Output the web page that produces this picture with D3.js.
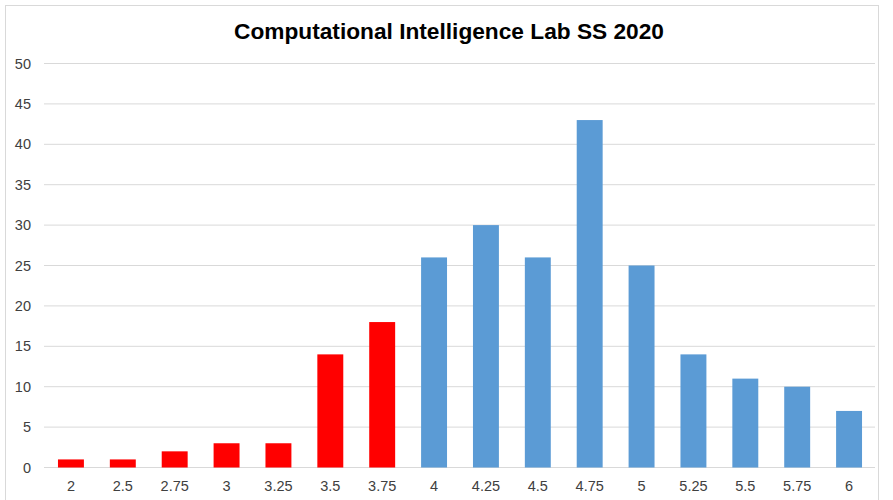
<!DOCTYPE html>
<html>
<head>
<meta charset="utf-8">
<script src="https://cdn.jsdelivr.net/npm/d3@7"></script>
<style>
  html, body { margin: 0; padding: 0; background: #fff; }
  svg { display: block; font-family: "Liberation Sans", Arial, sans-serif; }
</style>
</head>
<body>
<svg id="chart" width="893" height="500"></svg>
<script>
const grades = ['2', '2.5', '2.75', '3', '3.25', '3.5', '3.75', '4', '4.25', '4.5', '4.75', '5', '5.25', '5.5', '5.75', '6'];
const counts = [1, 1, 2, 3, 3, 14, 18, 26, 30, 26, 43, 25, 14, 11, 10, 7];
const yTicks = [0, 5, 10, 15, 20, 25, 30, 35, 40, 45, 50];
const failing = ['2', '2.5', '2.75', '3', '3.25', '3.5', '3.75'];

const svg = d3.select('#chart');

// chart frame
svg.append('rect')
  .attr('x', 5.5).attr('y', 5.5)
  .attr('width', 873).attr('height', 500)
  .attr('fill', '#fff')
  .attr('stroke', '#d9d9d9');

const x = d3.scaleBand().domain(grades).range([45, 875]).paddingInner(0.5).paddingOuter(0.25);
const y = d3.scaleLinear().domain([0, 50]).range([467.5, 63.5]);

// gridlines
svg.append('g')
  .selectAll('line')
  .data(yTicks)
  .join('line')
  .attr('x1', 44).attr('x2', 875)
  .attr('y1', d => y(d)).attr('y2', d => y(d))
  .attr('stroke', '#d9d9d9');

// y labels
svg.append('g')
  .selectAll('text')
  .data(yTicks)
  .join('text')
  .attr('x', 31)
  .attr('y', d => y(d) + 5)
  .attr('text-anchor', 'end')
  .attr('font-size', 14.5)
  .attr('fill', '#404040')
  .text(d => d);

// bars
svg.append('g')
  .selectAll('rect')
  .data(grades)
  .join('rect')
  .attr('x', d => x(d))
  .attr('width', x.bandwidth())
  .attr('y', (d, i) => y(counts[i]))
  .attr('height', (d, i) => y(0) - y(counts[i]))
  .attr('fill', d => failing.includes(d) ? '#ff0000' : '#5b9bd5');

// x labels
svg.append('g')
  .selectAll('text')
  .data(grades)
  .join('text')
  .attr('x', d => x(d) + x.bandwidth() / 2)
  .attr('y', 491)
  .attr('text-anchor', 'middle')
  .attr('font-size', 14.5)
  .attr('fill', '#404040')
  .text(d => d);

// title
svg.append('text')
  .attr('x', 449)
  .attr('y', 39)
  .attr('text-anchor', 'middle')
  .attr('font-size', 22.7)
  .attr('font-weight', 'bold')
  .attr('fill', '#000')
  .text('Computational Intelligence Lab SS 2020');
</script>
</body>
</html>
